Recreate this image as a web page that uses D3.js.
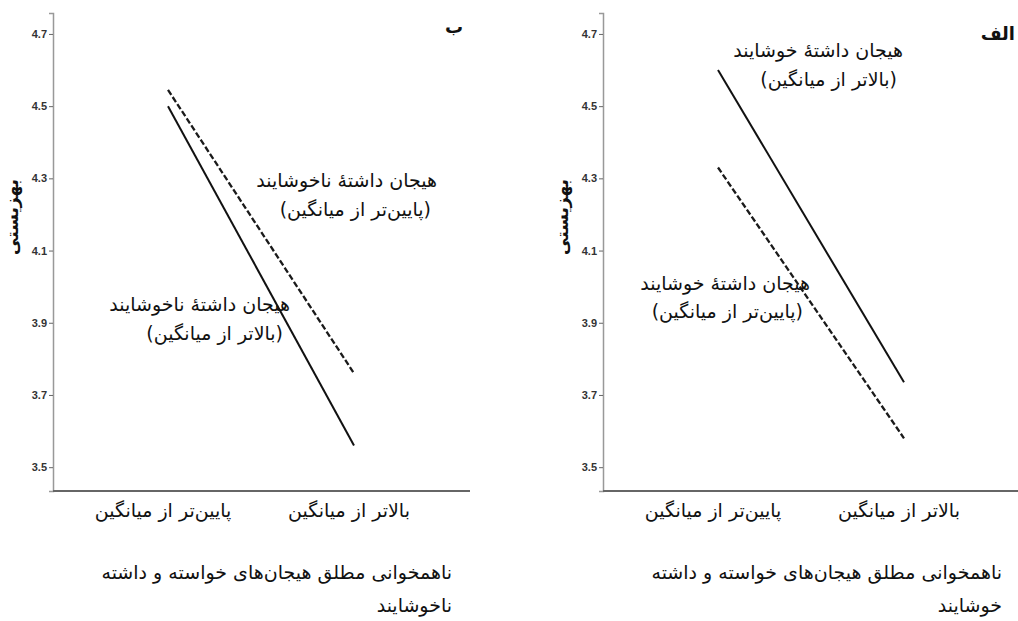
<!DOCTYPE html>
<html>
<head>
<meta charset="utf-8">
<script src="https://cdn.jsdelivr.net/npm/d3@7"></script>
<style>
  body { margin: 0; background: #fff; }
  .fa { font-family: "DejaVu Sans", sans-serif; fill: #111; direction: rtl; }
  .tick text { font-family: "Liberation Sans Narrow", "Liberation Sans", sans-serif; font-weight: bold; font-size: 11px; fill: #333; }
</style>
</head>
<body>
<script>
// categories on the x axis (both panels)
var categories = ["پایین‌تر از میانگین", "بالاتر از میانگین"];
var yTicks = [3.5, 3.7, 3.9, 4.1, 4.3, 4.5, 4.7];

// panel "ب" (unpleasant emotions)
var bSolid = [4.50, 3.56];   // unpleasant experienced, above average
var bDashed = [4.545, 3.76]; // unpleasant experienced, below average

// panel "الف" (pleasant emotions)
var aSolid = [4.60, 3.735];  // pleasant experienced, above average
var aDashed = [4.33, 3.58];  // pleasant experienced, below average

var svg = d3.select("body").append("svg")
    .attr("width", 1018)
    .attr("height", 621);

var y = d3.scaleLinear().domain([3.434, 4.758]).range([491, 13]);

function panel(x0, letter, letterX, letterY, solid, dashed, notes, title2) {
  var g = svg.append("g");
  var x = d3.scalePoint().domain(categories).range([x0 + 115, x0 + 301]);

  //y axis
  var ya = g.append("g")
      .attr("transform", "translate(" + x0 + ",0)")
      .call(d3.axisLeft(y).tickValues(yTicks).tickSize(4).tickPadding(2).tickFormat(d3.format(".1f")));
  ya.select(".domain").attr("stroke", "#999").attr("stroke-width", 1.5);
  ya.selectAll(".tick line").attr("stroke", "#666");

  //x axis line
  g.append("line")
      .attr("x1", x0).attr("x2", x0 + 417)
      .attr("y1", 491).attr("y2", 491)
      .attr("stroke", "#666").attr("stroke-width", 2);

  //category labels
  g.selectAll(".cat")
    .data(categories)
    .enter().append("text")
      .attr("class", "fa")
      .attr("x", function(d) { return x(d) - 5; })
      .attr("y", 517)
      .attr("text-anchor", "middle")
      .style("font-size", "19px")
      .text(function(d) { return d; });

  //lines
  var line = d3.line()
      .x(function(d, i) { return x(categories[i]); })
      .y(function(d) { return y(d); });

  g.append("path")
      .datum(dashed)
      .attr("d", line)
      .attr("fill", "none")
      .attr("stroke", "#1a1a1a")
      .attr("stroke-width", 2.3)
      .attr("stroke-dasharray", "6,2.5");

  g.append("path")
      .datum(solid)
      .attr("d", line)
      .attr("fill", "none")
      .attr("stroke", "#111")
      .attr("stroke-width", 2);

  //annotations (right aligned)
  notes.forEach(function(n) {
    g.append("text")
        .attr("class", "fa")
        .attr("x", n[0]).attr("y", n[1])
        .attr("text-anchor", "start")
        .style("font-size", "19px")
        .text(n[2]);
  });

  //y label
  g.append("text")
      .attr("class", "fa")
      .attr("transform", "translate(" + (x0 - 35) + ",217) rotate(-90)")
      .attr("text-anchor", "middle")
      .style("font-size", "17px")
      .style("font-weight", "bold")
      .text("بهزیستی");

  //panel letter
  g.append("text")
      .attr("class", "fa")
      .attr("x", letterX).attr("y", letterY)
      .attr("text-anchor", "start")
      .style("font-size", "18px")
      .style("font-weight", "bold")
      .text(letter);

  //x title
  g.append("text")
      .attr("class", "fa")
      .attr("x", x0 + 399).attr("y", 579)
      .attr("text-anchor", "start")
      .style("font-size", "19px")
      .text("ناهمخوانی مطلق هیجان‌های خواسته و داشته");
  g.append("text")
      .attr("class", "fa")
      .attr("x", x0 + 399).attr("y", 612)
      .attr("text-anchor", "start")
      .style("font-size", "19px")
      .text(title2);
}

panel(53, "ب", 463, 33, bSolid, bDashed, [
  [437, 187, "هیجان داشتهٔ ناخوشایند"],
  [431, 216, "(پایین‌تر از میانگین)"],
  [290, 311, "هیجان داشتهٔ ناخوشایند"],
  [283, 340, "(بالاتر از میانگین)"]
], "ناخوشایند");

panel(603, "الف", 1015, 40, aSolid, aDashed, [
  [903, 57, "هیجان داشتهٔ خوشایند"],
  [897, 86, "(بالاتر از میانگین)"],
  [810, 290, "هیجان داشتهٔ خوشایند"],
  [803, 318, "(پایین‌تر از میانگین)"]
], "خوشایند");
</script>
</body>
</html>
